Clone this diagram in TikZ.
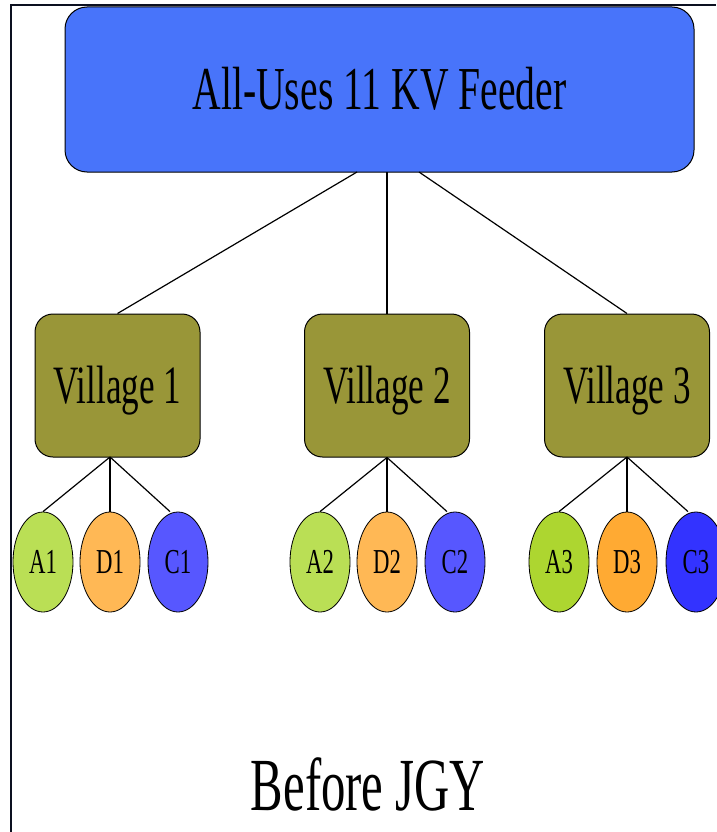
\documentclass[tikz,border=0pt]{standalone}
\usepackage{fontspec}
\usetikzlibrary{shapes.geometric}
\newfontfamily\cf[FakeStretch=0.65]{Liberation Serif}
\definecolor{feederblue}{RGB}{72,116,250}
\definecolor{olivebox}{RGB}{153,150,56}
\definecolor{agreenA}{RGB}{186,223,85}
\definecolor{agreenB}{RGB}{173,214,48}
\definecolor{dorangeA}{RGB}{255,184,85}
\definecolor{dorangeB}{RGB}{255,170,51}
\definecolor{cblueA}{RGB}{87,87,255}
\definecolor{cblueB}{RGB}{51,51,255}
\definecolor{framecol}{RGB}{12,16,32}
\begin{document}
\begin{tikzpicture}[x=1pt,y=-1pt,
  feederbox/.style={draw=black,line width=1pt,fill=feederblue,rounded corners=22pt,minimum width=629pt,minimum height=165pt,inner sep=0pt,text height=40pt,text depth=0pt,font=\cf\fontsize{61}{61}\selectfont},
  villagebox/.style={draw=black,line width=1pt,fill=olivebox,rounded corners=18pt,minimum width=165pt,minimum height=143pt,inner sep=0pt,text height=36pt,text depth=0pt,font=\cf\fontsize{54}{54}\selectfont},
  leaf/.style={ellipse,draw=black,line width=0.8pt,minimum width=60pt,minimum height=100pt,inner sep=0pt,text height=23pt,text depth=0pt,font=\cf\fontsize{35}{35}\selectfont},
  link/.style={draw=black,line width=1.2pt}]
\useasboundingbox (0,0) rectangle (716,832);
\draw[framecol,line width=2.2pt] (11,832) -- (11,5) -- (716,5);
\node[feederbox] (feeder) at (379.5,89.5) {All-Uses 11 KV Feeder};
\node[villagebox] (v1) at (117.5,385.5) {Village 1};
\node[villagebox] (v2) at (387,385.5) {Village 2};
\node[villagebox] (v3) at (627,385.5) {Village 3};
\coordinate (f1) at (357,172);
\coordinate (f2) at (387,172);
\coordinate (f3) at (419,172);
\draw[link] (f1) -- (v1.north);
\draw[link] (f2) -- (v2.north);
\draw[link] (f3) -- (v3.north);
\node[leaf,fill=agreenA] (a1) at (43,562) {A1};
\node[leaf,fill=dorangeA] (d1) at (110,562) {D1};
\node[leaf,fill=cblueA] (c1) at (178,562) {C1};
\node[leaf,fill=agreenA] (a2) at (320,562) {A2};
\node[leaf,fill=dorangeA] (d2) at (387,562) {D2};
\node[leaf,fill=cblueA] (c2) at (455,562) {C2};
\node[leaf,fill=agreenB] (a3) at (559,562) {A3};
\node[leaf,fill=dorangeB] (d3) at (627,562) {D3};
\node[leaf,fill=cblueB] (c3) at (696,562) {C3};
\coordinate (b1) at (110,457);
\coordinate (b3) at (627,457);
\draw[link] (b1) -- (a1.north);
\draw[link] (b1) -- (d1.north);
\draw[link] (b1) -- ([xshift=-8pt]c1.north);
\draw[link] (v2.south) -- (a2.north);
\draw[link] (v2.south) -- (d2.north);
\draw[link] (v2.south) -- ([xshift=-8pt]c2.north);
\draw[link] (b3) -- (a3.north);
\draw[link] (b3) -- (d3.north);
\draw[link] (b3) -- ([xshift=-8pt]c3.north);
\node[font=\cf\fontsize{75}{75}\selectfont,anchor=base] (title) at (368,810) {Before JGY};
\end{tikzpicture}
\end{document}
